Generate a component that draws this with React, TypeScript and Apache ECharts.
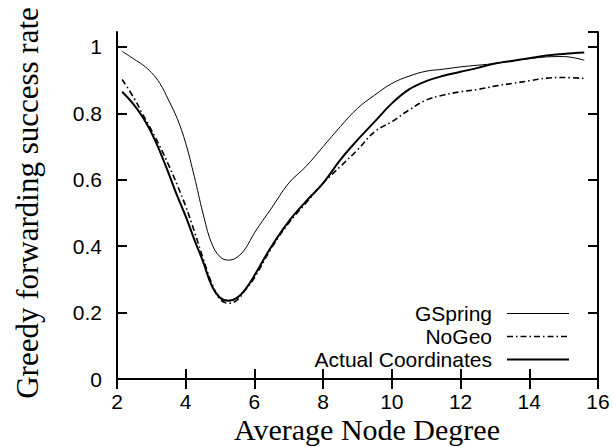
import React, { useEffect, useRef } from "react";
import * as echarts from "echarts";

const degrees = [2.15, 2.5, 2.75, 3, 3.25, 3.5, 3.75, 4, 4.25, 4.5, 4.75, 5, 5.25, 5.5, 5.75, 6, 6.5, 7, 7.5, 8, 8.5, 9, 9.5, 10, 10.5, 11, 11.5, 12, 12.5, 13, 13.5, 14, 14.5, 15, 15.6];
const gspring = [0.987, 0.963, 0.946, 0.923, 0.89, 0.84, 0.785, 0.71, 0.61, 0.5, 0.41, 0.368, 0.358, 0.367, 0.395, 0.44, 0.515, 0.59, 0.64, 0.7, 0.76, 0.815, 0.855, 0.89, 0.912, 0.927, 0.933, 0.94, 0.945, 0.95, 0.958, 0.965, 0.97, 0.971, 0.96];
const noGeo = [0.902, 0.845, 0.797, 0.75, 0.7, 0.645, 0.585, 0.52, 0.445, 0.365, 0.29, 0.24, 0.228, 0.238, 0.27, 0.305, 0.395, 0.47, 0.53, 0.59, 0.64, 0.69, 0.745, 0.775, 0.81, 0.84, 0.855, 0.865, 0.872, 0.882, 0.89, 0.898, 0.906, 0.908, 0.905];
const actual = [0.865, 0.825, 0.788, 0.742, 0.685, 0.62, 0.552, 0.49, 0.42, 0.355, 0.283, 0.245, 0.236, 0.245, 0.272, 0.312, 0.4, 0.475, 0.535, 0.59, 0.66, 0.72, 0.775, 0.83, 0.872, 0.897, 0.913, 0.925, 0.937, 0.95, 0.958, 0.966, 0.974, 0.979, 0.983];
const seriesNames = ["GSpring", "NoGeo", "Actual Coordinates"];
const xTitle = "Average Node Degree";
const yTitle = "Greedy forwarding success rate";

const pairs = (ys: number[]) => degrees.map((x, i) => [x, ys[i]]);

export default function App() {
  const ref = useRef<HTMLDivElement>(null);
  useEffect(() => {
    if (!ref.current) return;
    const chart = echarts.init(ref.current, undefined, { renderer: "svg" });
    const sans = "Liberation Sans";
    const serif = "Liberation Serif";
    const axisCommon = {
      axisLine: { show: true, lineStyle: { color: "#000", width: 2 } },
      axisTick: { show: true, inside: true, length: 10, lineStyle: { color: "#000", width: 2 } },
      splitLine: { show: false },
    };
    const widths = [1, 1.6, 2];
    const dash: any[] = ["solid", [6, 3, 1.5, 3], "solid"];
    const series = [gspring, noGeo, actual].map((ys, i) => ({
      name: seriesNames[i],
      type: "line",
      data: pairs(ys),
      smooth: 0.4,
      symbol: "none",
      lineStyle: { color: "#000", width: widths[i], type: dash[i] },
      itemStyle: { color: "#000" },
    }));
    chart.setOption({
      animation: false,
      backgroundColor: "#fff",
      grid: { left: 117, right: 15, top: 32, bottom: 68, containLabel: false },
      xAxis: [
        {
          type: "value", min: 2, max: 16, interval: 2, position: "bottom",
          ...axisCommon,
          axisLabel: { show: true, margin: 12, fontSize: 21, fontFamily: sans, color: "#000" },
        },
        {
          type: "value", min: 2, max: 16, interval: 2, position: "top",
          ...axisCommon,
          axisLabel: { show: false },
        },
      ],
      yAxis: [
        {
          type: "value", min: 0, max: 1.045, interval: 0.2, position: "left",
          ...axisCommon,
          axisLabel: {
            show: true, margin: 15, fontSize: 21, fontFamily: sans, color: "#000",
            showMaxLabel: false,
            formatter: (v: number) => (v > 1.01 ? "" : String(Math.round(v * 10) / 10)),
          },
        },
        {
          type: "value", min: 0, max: 1.045, interval: 0.2, position: "right",
          ...axisCommon,
          axisLabel: { show: false },
        },
      ],
      legend: {
        data: seriesNames.map((name, i) => ({
          name,
          lineStyle: { color: "#000", width: widths[i], type: dash[i] },
        })),
        orient: "vertical",
        align: "right",
        right: 43,
        top: 303,
        itemWidth: 62,
        itemHeight: 2,
        itemGap: 2,
        padding: 0,
        itemStyle: { opacity: 0 },
        textStyle: { fontSize: 21, fontFamily: sans, color: "#000", lineHeight: 20, padding: [0, 10, 0, 0] },
      },
      series,
      graphic: [
        {
          type: "text", x: 367, y: 429,
          style: { text: xTitle, fontSize: 30, fontFamily: serif, fill: "#000", align: "center", verticalAlign: "middle" },
        },
        {
          type: "text", x: 27, y: 203, rotation: Math.PI / 2,
          style: { text: yTitle, fontSize: 31, fontFamily: serif, fill: "#000", align: "center", verticalAlign: "middle" },
        },
      ],
    });
    return () => chart.dispose();
  }, []);
  return <div ref={ref} style={{ width: 613, height: 447, position: "absolute", left: 0, top: 0 }} />;
}
